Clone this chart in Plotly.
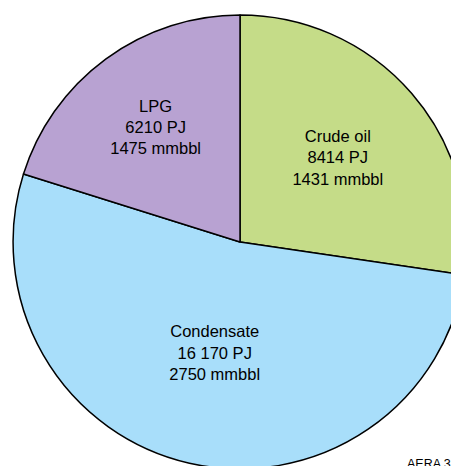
import plotly.graph_objects as go

labels = ["Crude oil", "Condensate", "LPG"]
energy_pj = [8414, 16170, 6210]
volume_mmbbl = [1431, 2750, 1475]
colors = ["#c5dc88", "#a8defa", "#b8a2d2"]


def fmt(v):
    # space separator only for 5+ digit numbers, as in the source figure
    return f"{v:,}".replace(",", " ") if v >= 10000 else str(v)


slice_text = [f"{lab}<br>{fmt(pj)} PJ<br>{fmt(mb)} mmbbl"
              for lab, pj, mb in zip(labels, energy_pj, volume_mmbbl)]

fig = go.Figure()

fig.add_trace(go.Pie(
    labels=labels,
    values=energy_pj,
    text=slice_text,
    textinfo="text",
    textposition="inside",
    insidetextorientation="horizontal",
    sort=False,
    direction="clockwise",
    rotation=0,
    marker=dict(colors=colors, line=dict(color="black", width=1.5)),
    textfont=dict(family="Liberation Sans, Arial, sans-serif", size=16.5, color="black"),
    domain=dict(x=[0.011, 1.0], y=[0.011, 0.985]),
    showlegend=False,
))

fig.add_annotation(
    text="AERA 3.1", x=0.865, y=0.04, xref="paper", yref="paper",
    xanchor="left", yanchor="top", showarrow=False,
    font=dict(family="Liberation Sans, Arial, sans-serif", size=12.5, color="black"),
)

fig.update_layout(
    width=459, height=466,
    margin=dict(l=0, r=0, t=0, b=0),
    paper_bgcolor="white",
    plot_bgcolor="white",
)

fig.write_html("out.html")
